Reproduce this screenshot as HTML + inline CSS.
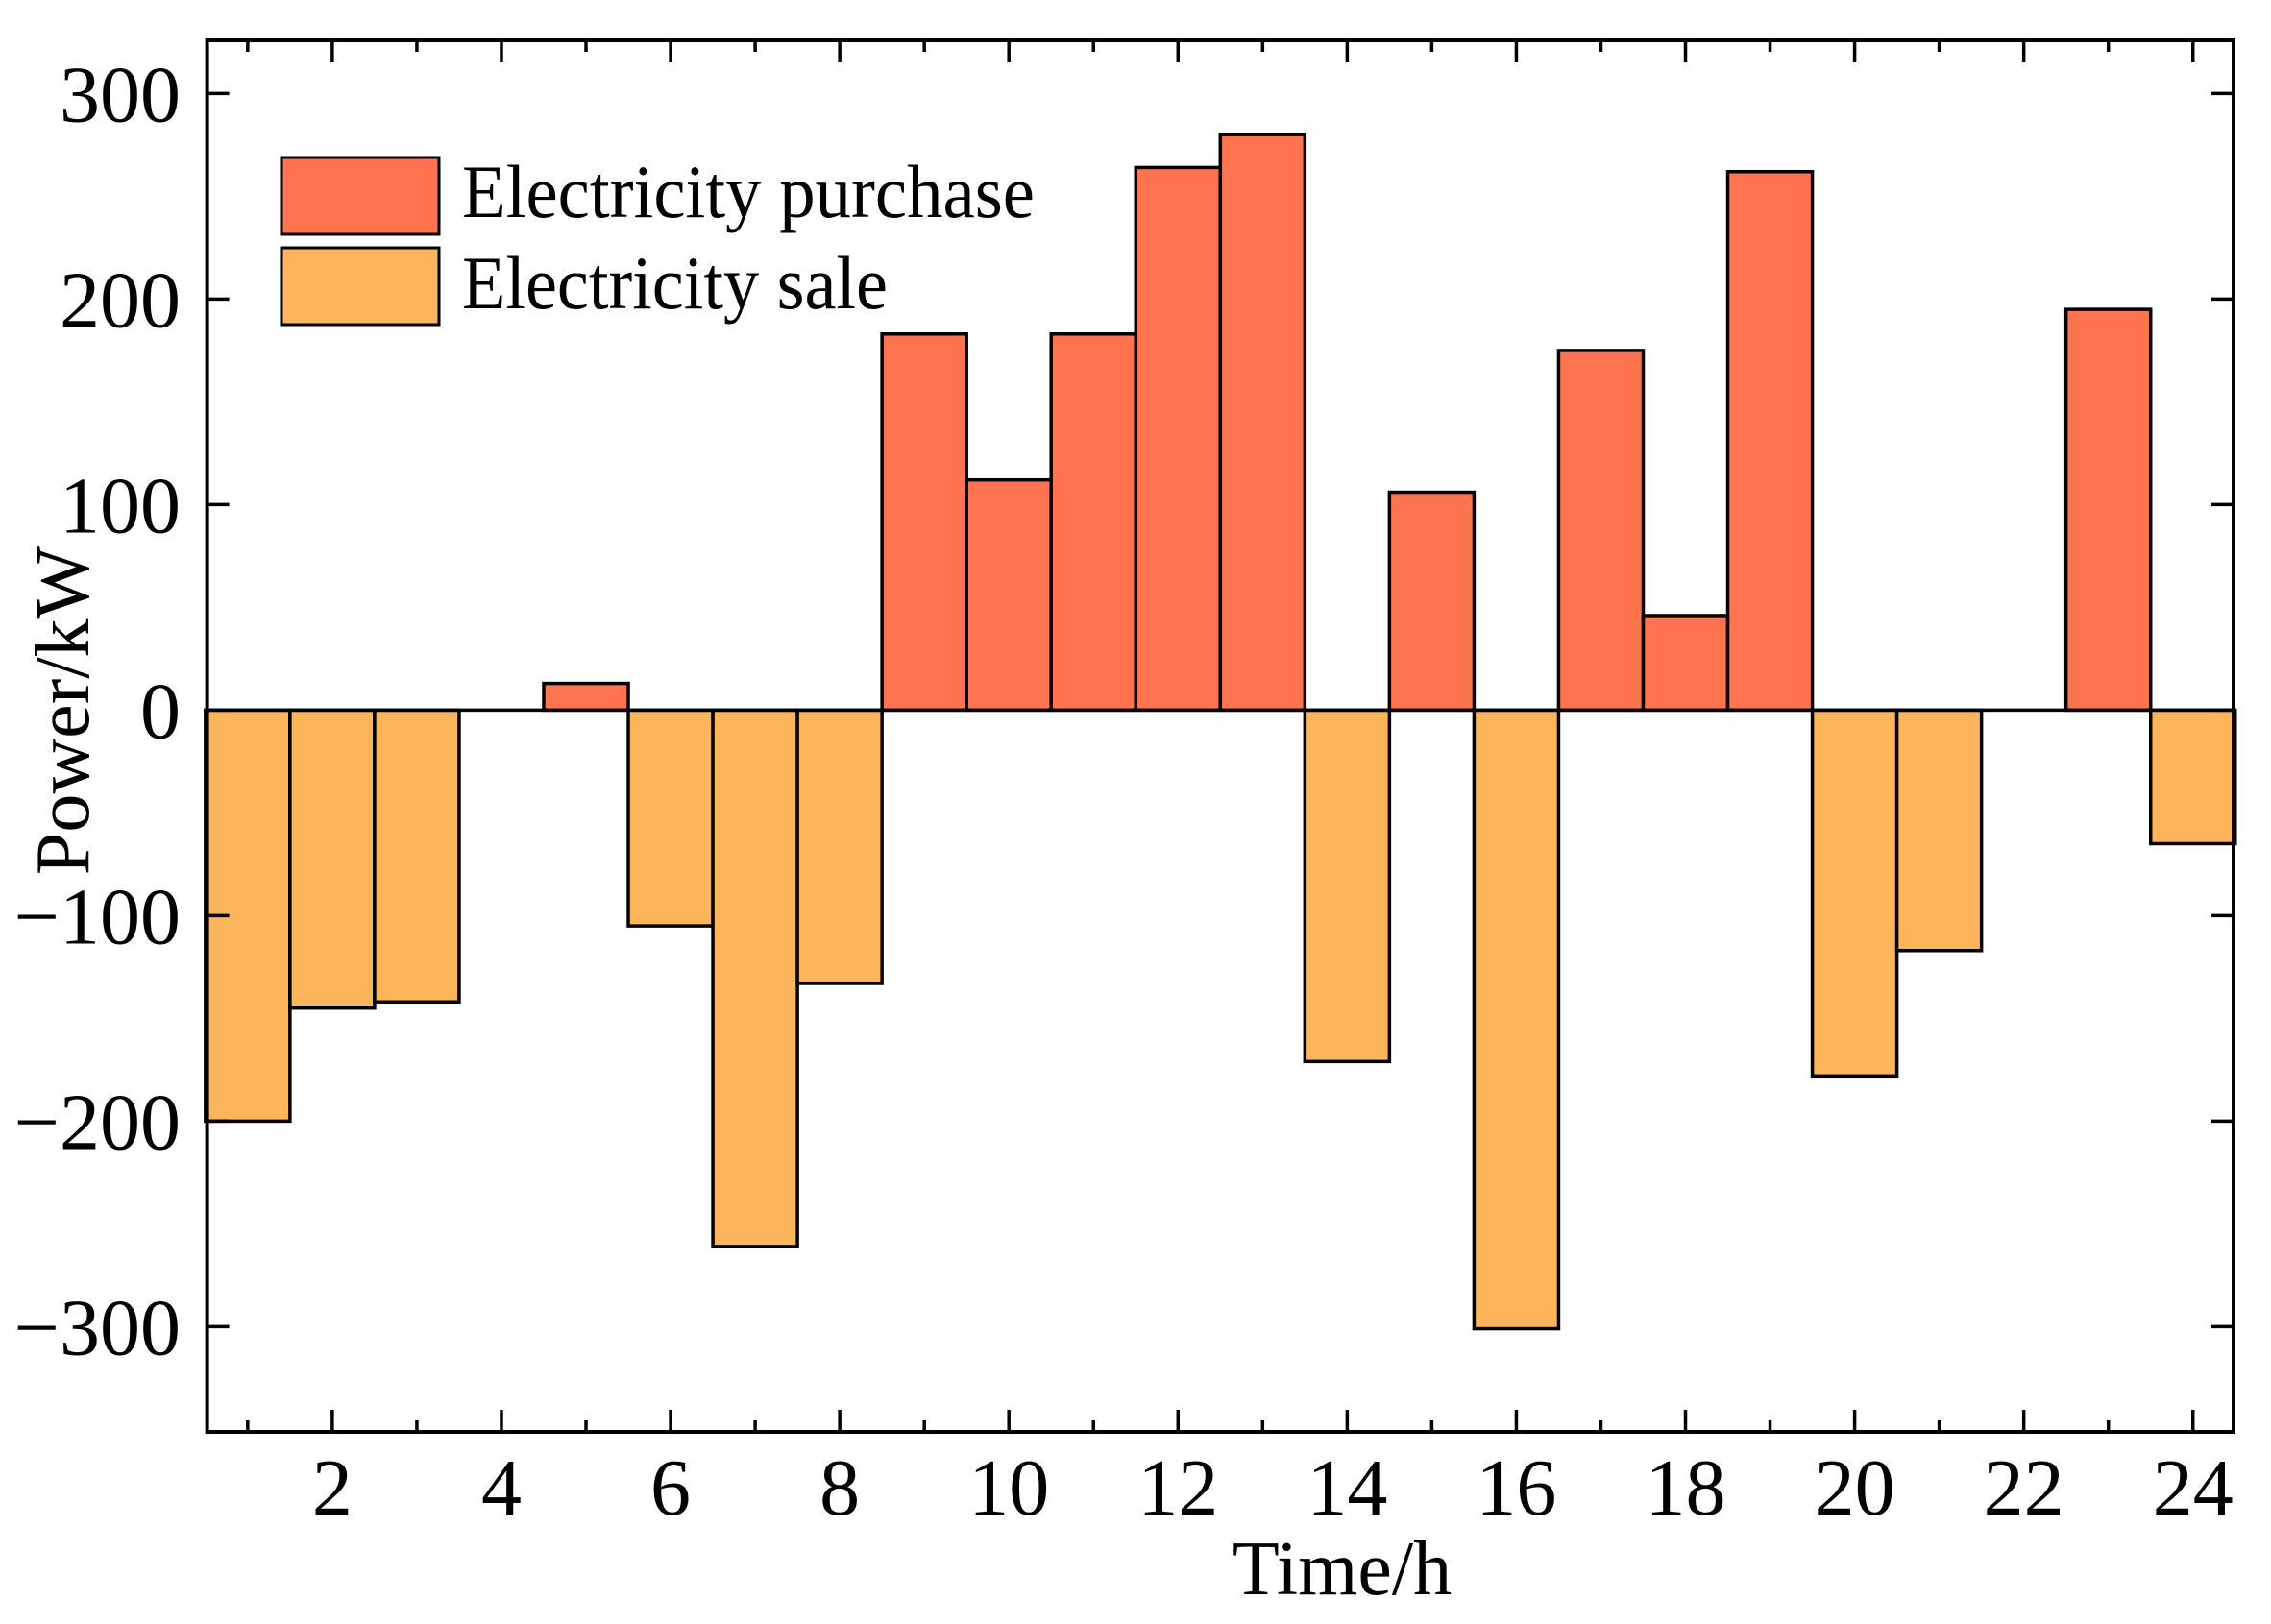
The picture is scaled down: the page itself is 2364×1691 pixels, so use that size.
<!DOCTYPE html>
<html><head><meta charset="utf-8"><style>
html,body{margin:0;padding:0;background:#fff;}
svg{display:block;font-family:"Liberation Serif",serif;}
</style></head><body>
<svg id="chart" width="2364" height="1691" viewBox="0 0 2364 1691">
<g id="bars"></g>
<g id="axes"></g>
<g>
<rect x="293" y="164" width="164" height="80" fill="#FF7450" stroke="#000" stroke-width="3"/>
<text x="481" y="226" font-size="78" textLength="596" lengthAdjust="spacingAndGlyphs">Electricity purchase</text>
<rect x="293" y="258" width="164" height="80" fill="#FDB55C" stroke="#000" stroke-width="3"/>
<text x="481" y="321" font-size="78" textLength="443" lengthAdjust="spacingAndGlyphs">Electricity sale</text>
</g>
<text x="1397" y="1660" font-size="80" text-anchor="middle">Time/h</text>
<text transform="translate(92,740) rotate(-90)" font-size="80" text-anchor="middle">Power/kW</text>
</svg>
<script>
const hours = [1,2,3,4,5,6,7,8,9,10,11,12,13,14,15,16,17,18,19,20,21,22,23,24];
const purchase = [0,0,0,0,13,0,0,0,183,112,183,264,280,0,106,0,175,46,262,0,0,0,195,0];
const sale = [-200,-145,-142,0,0,-105,-261,-133,0,0,0,0,0,-171,0,-301,0,0,0,-178,-117,0,0,-65];
const yTicks = [-300,-200,-100,0,100,200,300];
const xTicks = [2,4,6,8,10,12,14,16,18,20,22,24];
const L=215.6,R=2325,T=42,B=1491;
const xMin=0.52,xMax=24.48,y0v=739.4,ppu=2.14;
const sx=v=>L+(v-xMin)/(xMax-xMin)*(R-L);
const sy=v=>y0v-v*ppu;
const NS="http://www.w3.org/2000/svg";
const bars=document.getElementById('bars'),axes=document.getElementById('axes');
function mk(tag,attrs,parent){const e=document.createElementNS(NS,tag);for(const k in attrs)e.setAttribute(k,attrs[k]);parent.appendChild(e);return e;}
function bar(h,v,color,name){
  if(!v)return;
  const x1=sx(h-0.5),x2=sx(h+0.5),ya=sy(Math.max(v,0)),yb=sy(Math.min(v,0));
  const r=mk('rect',{x:x1,y:ya,width:x2-x1,height:yb-ya,fill:color,stroke:'#000','stroke-width':3.5},bars);
  
  
}
hours.forEach((h,i)=>{bar(h,purchase[i],'#FF7450','bar-purchase');bar(h,sale[i],'#FDB55C','bar-sale');});
const zl=mk('line',{x1:L,x2:R,y1:sy(0),y2:sy(0),stroke:'#000','stroke-width':3.5},axes);


const fr=mk('rect',{x:L,y:T,width:R-L,height:B-T,fill:'none',stroke:'#000','stroke-width':4},axes);


yTicks.forEach(v=>{
  const y=sy(v);
  mk('line',{x1:L,x2:L+23,y1:y,y2:y,stroke:'#000','stroke-width':3.5},axes);
  mk('line',{x1:R,x2:R-23,y1:y,y2:y,stroke:'#000','stroke-width':3.5},axes);
  const t=mk('text',{x:188,y:y+29,'font-size':84,'text-anchor':'end'},axes);
  t.textContent=v<0?'\u2212'+Math.abs(v):String(v);
  
  
});
for(let h=1;h<=24;h++){
  const x=sx(h),len=h%2===0?23:12;
  mk('line',{x1:x,x2:x,y1:B,y2:B-len,stroke:'#000','stroke-width':3.5},axes);
  mk('line',{x1:x,x2:x,y1:T,y2:T+len,stroke:'#000','stroke-width':3.5},axes);
}
xTicks.forEach(v=>{
  const t=mk('text',{x:sx(v),y:1577,'font-size':84,'text-anchor':'middle'},axes);
  t.textContent=String(v);
  
  
});
</script>
</body></html>
